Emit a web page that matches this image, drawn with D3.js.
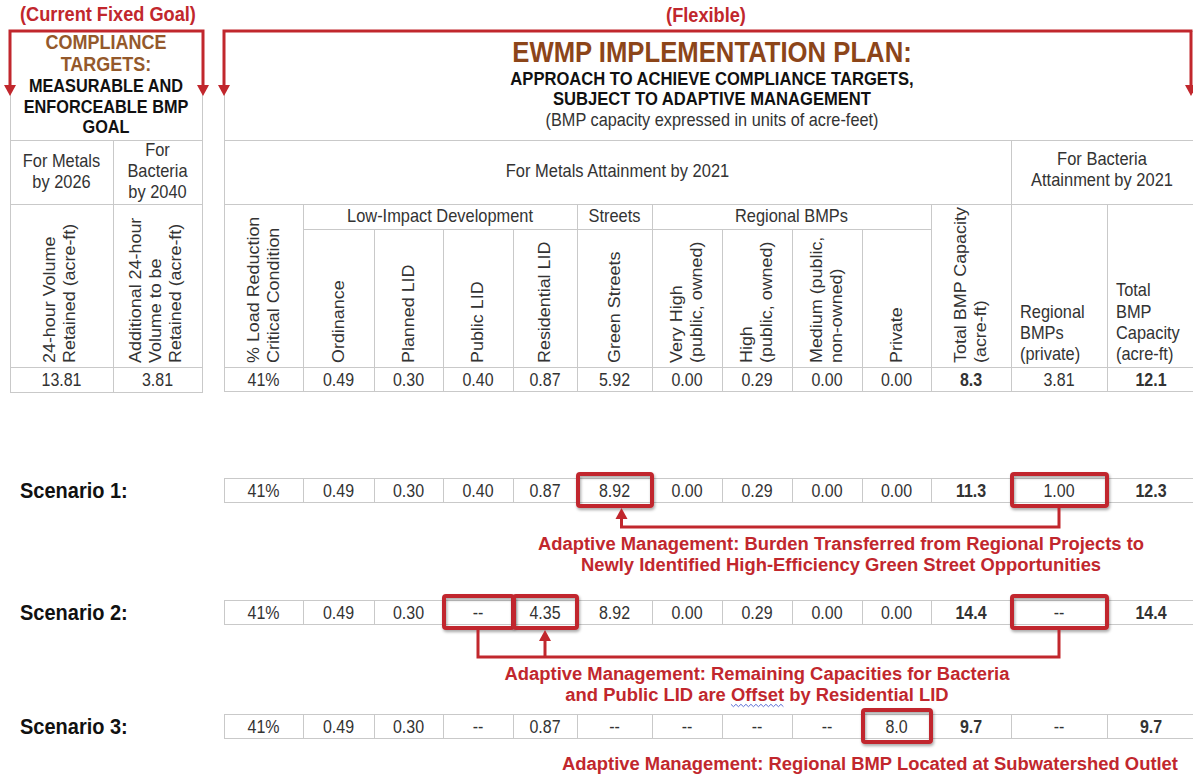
<!DOCTYPE html>
<html>
<head>
<meta charset="utf-8">
<script src="https://cdn.jsdelivr.net/npm/d3@7"></script>
<style>
  body { margin: 0; background: #fff; }
  svg { display: block; }
  text { font-family: "Liberation Sans", Arial, Helvetica, sans-serif; }
</style>
</head>
<body>
<svg id="chart" width="1193" height="776"></svg>
<script>
// ---- data ----
const columns = ["load", "ordinance", "plannedLid", "publicLid", "residentialLid", "greenStreets",
  "veryHigh", "high", "medium", "private", "totalMetals", "regionalPrivate", "totalBacteria"];
const rotatedLabels = [
  ["% Load Reduction", "Critical Condition"], ["Ordinance"], ["Planned LID"], ["Public LID"],
  ["Residential LID"], ["Green Streets"], ["Very High", "(public, owned)"], ["High", "(public, owned)"],
  ["Medium (public,", "non-owned)"], ["Private"], ["Total BMP Capacity", "(acre-ft)"]
];
const bacteriaLabels = [["Regional", "BMPs", "(private)"], ["Total", "BMP", "Capacity", "(acre-ft)"]];
const boldColumns = ["totalMetals", "totalBacteria"];
const groups = [
  { label: "Low-Impact Development", from: "ordinance", to: "residentialLid" },
  { label: "Streets", from: "greenStreets", to: "greenStreets" },
  { label: "Regional BMPs", from: "veryHigh", to: "private" }
];
const rows = ["base", "s1", "s2", "s3"];
const scenarioLabels = ["", "Scenario 1:", "Scenario 2:", "Scenario 3:"];
const baseValues = ["41%", "0.49", "0.30", "0.40", "0.87", "5.92", "0.00", "0.29", "0.00", "0.00", "8.3", "3.81", "12.1"];
const scenario1 = ["41%", "0.49", "0.30", "0.40", "0.87", "8.92", "0.00", "0.29", "0.00", "0.00", "11.3", "1.00", "12.3"];
const scenario2 = ["41%", "0.49", "0.30", "--", "4.35", "8.92", "0.00", "0.29", "0.00", "0.00", "14.4", "--", "14.4"];
const scenario3 = ["41%", "0.49", "0.30", "--", "0.87", "--", "--", "--", "--", "8.0", "9.7", "--", "9.7"];
const complianceCols = ["metals", "bacteria"];
const complianceHeads = [["For Metals", "by 2026"], ["For", "Bacteria", "by 2040"]];
const complianceLabels = [["24-hour Volume", "Retained (acre-ft)"], ["Additional 24-hour", "Volume to be", "Retained (acre-ft)"]];
const complianceValues = ["13.81", "3.81"];
const highlights = [["s1", "greenStreets"], ["s1", "regionalPrivate"], ["s2", "publicLid"],
  ["s2", "residentialLid"], ["s2", "regionalPrivate"], ["s3", "private"]];
const notes1 = ["Adaptive Management: Burden Transferred from Regional Projects to",
  "Newly Identified High-Efficiency Green Street Opportunities"];
const notes2 = ["Adaptive Management: Remaining Capacities for Bacteria",
  "and Public LID are Offset by Residential LID"];
const notes3 = ["Adaptive Management: Regional BMP Located at Subwatershed Outlet"];

const rowValues = { base: baseValues, s1: scenario1, s2: scenario2, s3: scenario3 };

// ---- layout ----
const RED = "#c1272d", GRID = "#c9c9c9", INK = "#333", BROWN = "#8c4519";
const K = 1.12; // source picture is slightly stretched vertically
const colEdges = [224, 303, 374, 443, 513, 577, 652, 722, 792, 862, 931, 1011, 1107, 1195];
const leftEdges = [10, 113, 202];

const x = d3.scaleOrdinal().domain(columns).range(colEdges.slice(0, -1));
const w = d3.scaleOrdinal().domain(columns).range(d3.pairs(colEdges).map(([a, b]) => b - a));
const xc = (c) => x(c) + w(c) / 2;
const lx = d3.scaleOrdinal().domain(complianceCols).range(leftEdges.slice(0, -1));
const lw = d3.scaleOrdinal().domain(complianceCols).range(d3.pairs(leftEdges).map(([a, b]) => b - a));
const y = d3.scaleOrdinal().domain(rows).range([367, 478, 600, 714]);
const rowH = 24;

const svg = d3.select("#chart");
svg.append("rect").attr("width", 1193).attr("height", 776).attr("fill", "#fff");

const defs = svg.append("defs");
defs.append("filter").attr("id", "shadow").attr("x", "-10%").attr("y", "-20%").attr("width", "130%").attr("height", "150%")
  .append("feDropShadow").attr("dx", 1).attr("dy", 2).attr("stdDeviation", 1.5)
  .attr("flood-color", "#000").attr("flood-opacity", 0.35);

const label = (g, str, px, py, o = {}) => {
  const k = o.k || K;
  return g.append("text")
    .attr("transform", o.rotate
      ? `translate(${px},${py}) rotate(-90) scale(${k},1)`
      : `translate(${px},${py}) scale(1,${k})`)
    .attr("text-anchor", o.anchor || "middle")
    .attr("dominant-baseline", "central")
    .attr("font-size", o.size || 16)
    .attr("font-weight", o.bold ? "bold" : null)
    .attr("fill", o.color || INK)
    .text(str);
};

const cell = (g, x0, y0, x1, y1) =>
  g.append("rect").attr("x", x0 + 0.5).attr("y", y0 + 0.5).attr("width", x1 - x0).attr("height", y1 - y0)
    .attr("fill", "#fff").attr("stroke", GRID).attr("stroke-width", 1);

// ---- left table (compliance targets) ----
const left = svg.append("g");
cell(left, 10, 31, 202, 140);
complianceCols.forEach((c, i) => {
  cell(left, lx(c), 140, lx(c) + lw(c), 204);
  cell(left, lx(c), 204, lx(c) + lw(c), 367);
  cell(left, lx(c), 367, lx(c) + lw(c), 392);
  const cx = lx(c) + lw(c) / 2;
  const head = complianceHeads[i];
  head.forEach((s, j) => label(left, s, cx, 171 - (head.length - 1) * 10.5 + j * 21, { size: 16.4 }));
  const rot = complianceLabels[i];
  rot.forEach((s, j) => label(left, s, cx - 2 - (rot.length - 1) * 10 + j * 20, 363, { rotate: true, anchor: "start" }));
  label(left, complianceValues[i], cx, 380);
});
label(left, "COMPLIANCE", 106, 42, { bold: true, size: 18, color: "#94592b" });
label(left, "TARGETS:", 106, 64, { bold: true, size: 18, color: "#94592b" });
label(left, "MEASURABLE AND", 106, 86, { bold: true, size: 16.3, color: "#111" });
label(left, "ENFORCEABLE BMP", 106, 107, { bold: true, size: 16.3, color: "#111" });
label(left, "GOAL", 106, 127, { bold: true, size: 16.3, color: "#111" });

// ---- right table (implementation plan) ----
const right = svg.append("g");
cell(right, 224, 31, 1195, 140);
cell(right, 224, 140, x("regionalPrivate"), 204);
cell(right, x("regionalPrivate"), 140, 1195, 204);
label(right, "For Metals Attainment by 2021", (224 + x("regionalPrivate")) / 2, 171, { size: 16.5 });
label(right, "For Bacteria", (x("regionalPrivate") + 1193) / 2, 159, { size: 16.5 });
label(right, "Attainment by 2021", (x("regionalPrivate") + 1193) / 2, 180, { size: 16.5 });

label(right, "EWMP IMPLEMENTATION PLAN:", 712, 52, { bold: true, size: 25.7, color: BROWN });
label(right, "APPROACH TO ACHIEVE COMPLIANCE TARGETS,", 712, 79, { bold: true, size: 16.6, color: "#111" });
label(right, "SUBJECT TO ADAPTIVE MANAGEMENT", 712, 99, { bold: true, size: 16.6, color: "#111" });
label(right, "(BMP capacity expressed in units of acre-feet)", 712, 120, { size: 16.3 });

const grouped = new Set();
groups.forEach((gr) => {
  const i0 = columns.indexOf(gr.from), i1 = columns.indexOf(gr.to);
  columns.slice(i0, i1 + 1).forEach((c) => grouped.add(c));
  const x0 = x(gr.from), x1 = x(gr.to) + w(gr.to);
  cell(right, x0, 204, x1, 229);
  label(right, gr.label, (x0 + x1) / 2, 216, { size: 16.4 });
});

columns.forEach((c, i) => {
  const top = grouped.has(c) ? 229 : 204;
  cell(right, x(c), top, x(c) + w(c), 367);
  if (i < rotatedLabels.length) {
    const lines = rotatedLabels[i];
    lines.forEach((s, j) =>
      label(right, s, xc(c) - (lines.length - 1) * 10 + j * 20, 363, { rotate: true, anchor: "start" }));
  } else {
    const lines = bacteriaLabels[i - rotatedLabels.length];
    lines.forEach((s, j) =>
      label(right, s, x(c) + 9, 354 - (lines.length - 1 - j) * 21.3, { anchor: "start", size: 16.4 }));
  }
});

// ---- value rows ----
const body = svg.append("g");
rows.forEach((r, ri) => {
  columns.forEach((c, ci) => {
    cell(body, x(c), y(r), x(c) + w(c), y(r) + rowH);
    label(body, rowValues[r][ci], xc(c), y(r) + rowH / 2 + 1, { bold: boldColumns.includes(c) });
  });
  if (scenarioLabels[ri]) label(body, scenarioLabels[ri], 20, y(r) + rowH / 2, { anchor: "start", bold: true, size: 20, color: "#111" });
});

// ---- red frames on top ----
const red = svg.append("g");
const arrowDown = (px, tip) =>
  red.append("path").attr("d", `M${px - 6},${tip - 11}L${px + 6},${tip - 11}L${px},${tip}Z`).attr("fill", RED);
const arrowUp = (px, tip) =>
  red.append("path").attr("d", `M${px - 6},${tip + 11}L${px + 6},${tip + 11}L${px},${tip}Z`).attr("fill", RED);
const line = (d) => red.append("path").attr("d", d).attr("fill", "none").attr("stroke", RED).attr("stroke-width", 3);

line(`M10,86V31H203V86`); arrowDown(10, 96); arrowDown(203, 96);
line(`M224,86V31H1191V86`); arrowDown(224, 96); arrowDown(1191, 96);
label(red, "(Current Fixed Goal)", 108, 14, { bold: true, size: 18.2, color: RED });
label(red, "(Flexible)", 706, 15, { bold: true, size: 18.2, color: RED });

highlights.forEach(([r, c]) => {
  red.append("rect")
    .attr("x", x(c) + 1).attr("y", y(r) - 4).attr("width", w(c) - 1).attr("height", rowH + 8)
    .attr("rx", 2).attr("fill", "none").attr("stroke", RED).attr("stroke-width", 4)
    .attr("filter", "url(#shadow)");
});

const NOTE = { bold: true, size: 18.4, color: RED, k: 1.02 };

// scenario 1 connector
const b1 = y("s1") + rowH + 6;
line(`M${xc("regionalPrivate")},${b1}V527H${xc("greenStreets") + 7}V${b1 + 10}`);
arrowUp(xc("greenStreets") + 7, b1);
notes1.forEach((s, j) => label(red, s, 841, 543 + j * 21, NOTE));

// scenario 2 connector
const b2 = y("s2") + rowH + 6;
line(`M${xc("publicLid")},${b2}V657H${xc("regionalPrivate")}V${b2}`);
line(`M${xc("residentialLid")},657V${b2 + 10}`);
arrowUp(xc("residentialLid"), b2);
const n2 = notes2.map((s, j) => label(red, s, 757, 673 + j * 21, NOTE));

// spelling squiggle under "Offset"
const tnode = n2[1].node();
const str = notes2[1];
const i0 = str.indexOf("Offset");
const sx = tnode.getStartPositionOfChar(i0).x;
const ex = tnode.getEndPositionOfChar(i0 + 5).x;
const sq = d3.range(757 + sx, 757 + ex, 2.5).map((px, k) => [px, 694 + 11.5 + (k % 2 ? 1.2 : -1.2)]);
svg.append("path").attr("d", d3.line()(sq)).attr("fill", "none").attr("stroke", "#5b6fd6").attr("stroke-width", 1);

notes3.forEach((s) => label(red, s, 870, 763, NOTE));
</script>
</body>
</html>
